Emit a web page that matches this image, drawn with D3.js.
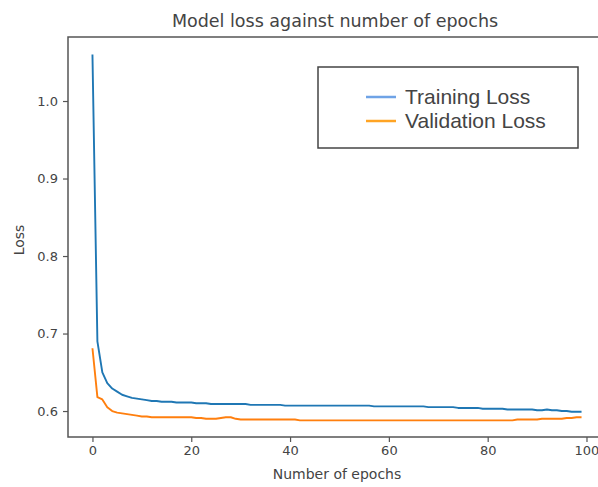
<!DOCTYPE html>
<html>
<head>
<meta charset="utf-8">
<script src="https://cdn.jsdelivr.net/npm/d3@7"></script>
<style>
  html, body { margin: 0; background: #fff; overflow: hidden; }
  svg { display: block; overflow: hidden; }
  text { font-family: "DejaVu Sans", sans-serif; fill: #444; }
</style>
</head>
<body>
<svg id="chart"></svg>
<script>
// loss values per epoch
const trainingLoss = [
    1.060, 0.690, 0.650, 0.636, 0.629, 0.625, 0.621, 0.619, 0.617, 0.616,
    0.615, 0.614, 0.613, 0.613, 0.612, 0.612, 0.612, 0.611, 0.611, 0.611,
    0.611, 0.610, 0.610, 0.610, 0.609, 0.609, 0.609, 0.609, 0.609, 0.609,
    0.609, 0.609, 0.608, 0.608, 0.608, 0.608, 0.608, 0.608, 0.608, 0.607,
    0.607, 0.607, 0.607, 0.607, 0.607, 0.607, 0.607, 0.607, 0.607, 0.607,
    0.607, 0.607, 0.607, 0.607, 0.607, 0.607, 0.607, 0.606, 0.606, 0.606,
    0.606, 0.606, 0.606, 0.606, 0.606, 0.606, 0.606, 0.606, 0.605, 0.605,
    0.605, 0.605, 0.605, 0.605, 0.604, 0.604, 0.604, 0.604, 0.604, 0.603,
    0.603, 0.603, 0.603, 0.603, 0.602, 0.602, 0.602, 0.602, 0.602, 0.602,
    0.601, 0.601, 0.602, 0.601, 0.601, 0.600, 0.600, 0.599, 0.599, 0.599
];
const validationLoss = [
    0.681, 0.618, 0.615, 0.605, 0.600, 0.598, 0.597, 0.596, 0.595, 0.594,
    0.593, 0.593, 0.592, 0.592, 0.592, 0.592, 0.592, 0.592, 0.592, 0.592,
    0.592, 0.591, 0.591, 0.590, 0.590, 0.590, 0.591, 0.592, 0.592, 0.590,
    0.589, 0.589, 0.589, 0.589, 0.589, 0.589, 0.589, 0.589, 0.589, 0.589,
    0.589, 0.589, 0.588, 0.588, 0.588, 0.588, 0.588, 0.588, 0.588, 0.588,
    0.588, 0.588, 0.588, 0.588, 0.588, 0.588, 0.588, 0.588, 0.588, 0.588,
    0.588, 0.588, 0.588, 0.588, 0.588, 0.588, 0.588, 0.588, 0.588, 0.588,
    0.588, 0.588, 0.588, 0.588, 0.588, 0.588, 0.588, 0.588, 0.588, 0.588,
    0.588, 0.588, 0.588, 0.588, 0.588, 0.588, 0.589, 0.589, 0.589, 0.589,
    0.589, 0.590, 0.590, 0.590, 0.590, 0.590, 0.591, 0.591, 0.592, 0.592
];
const xTicks = [0, 20, 40, 60, 80, 100];
const yTicks = [0.6, 0.7, 0.8, 0.9, 1.0];

const series = [
    {name: "Training Loss", values: trainingLoss, color: "#1f77b4", legendColor: "#6fa3e6"},
    {name: "Validation Loss", values: validationLoss, color: "#ff7f0e", legendColor: "#ffa424"}
];

const width = 598, height = 487;
// plot area runs past the right edge of the picture, as in the reference
const margin = {top: 37, right: -8, bottom: 50, left: 68};
const innerW = width - margin.left - margin.right,
      innerH = height - margin.top - margin.bottom;

const svg = d3.select("#chart")
    .attr("width", width)
    .attr("height", height);

const chart = svg.append("g")
    .attr("transform", `translate(${margin.left},${margin.top})`);

// matplotlib style 5% padding round the data
const x = d3.scaleLinear().domain([-4.95, 103.95]).range([0, innerW]);
const y = d3.scaleLinear().domain([0.5665, 1.0826]).range([innerH, 0]);

// x axis
const xAxis = chart.append("g")
    .attr("transform", `translate(0,${innerH})`)
    .call(d3.axisBottom(x).tickValues(xTicks).tickFormat(d3.format("d")).tickSize(5).tickPadding(4));

// y axis
const yAxis = chart.append("g")
    .call(d3.axisLeft(y).tickValues(yTicks).tickFormat(d3.format(".1f")).tickSize(5).tickPadding(5));

[xAxis, yAxis].forEach(a => {
    a.select(".domain").remove();
    a.selectAll(".tick line").attr("stroke", "#555").attr("stroke-width", 1.2);
    a.selectAll(".tick text")
        .style("font-family", "'DejaVu Sans', sans-serif")
        .style("font-size", "13px")
        .attr("fill", "#444");
});

// lines
const line = d3.line()
    .x((d, i) => x(i))
    .y(d => y(d));

chart.append("g")
    .selectAll("path")
    .data(series)
    .join("path")
    .attr("d", d => line(d.values))
    .attr("fill", "none")
    .attr("stroke", d => d.color)
    .attr("stroke-width", 1.9)
    .attr("stroke-linejoin", "round");

// frame: top, left and bottom only, the right side is cut off
const edge = width - margin.left;
chart.append("path")
    .attr("d", `M${edge},0H0V${innerH}H${edge}`)
    .attr("fill", "none")
    .attr("stroke", "#555")
    .attr("stroke-width", 1.5);

// title
svg.append("text")
    .attr("x", 335)
    .attr("y", 27)
    .attr("text-anchor", "middle")
    .style("font-size", "17.5px")
    .text("Model loss against number of epochs");

// axis labels
svg.append("text")
    .attr("x", 337)
    .attr("y", 479)
    .attr("text-anchor", "middle")
    .style("font-size", "14px")
    .text("Number of epochs");

svg.append("text")
    .attr("transform", "translate(24,240) rotate(-90)")
    .attr("text-anchor", "middle")
    .style("font-size", "14px")
    .text("Loss");

// legend
const legend = svg.append("g")
    .attr("transform", "translate(318,67)");

legend.append("rect")
    .attr("width", 260)
    .attr("height", 81)
    .attr("fill", "#fff")
    .attr("stroke", "#444")
    .attr("stroke-width", 1.5);

const item = legend.selectAll("g")
    .data(series)
    .join("g")
    .attr("transform", (d, i) => `translate(0,${30 + i * 24})`);

item.append("line")
    .attr("x1", 48)
    .attr("x2", 78)
    .attr("stroke", d => d.legendColor)
    .attr("stroke-width", 2.5);

item.append("text")
    .attr("x", 87)
    .attr("dy", "0.35em")
    .style("font-family", "'Liberation Sans', Arial, sans-serif")
    .style("font-size", "21px")
    .attr("fill", "#555")
    .text(d => d.name);
</script>
</body>
</html>
